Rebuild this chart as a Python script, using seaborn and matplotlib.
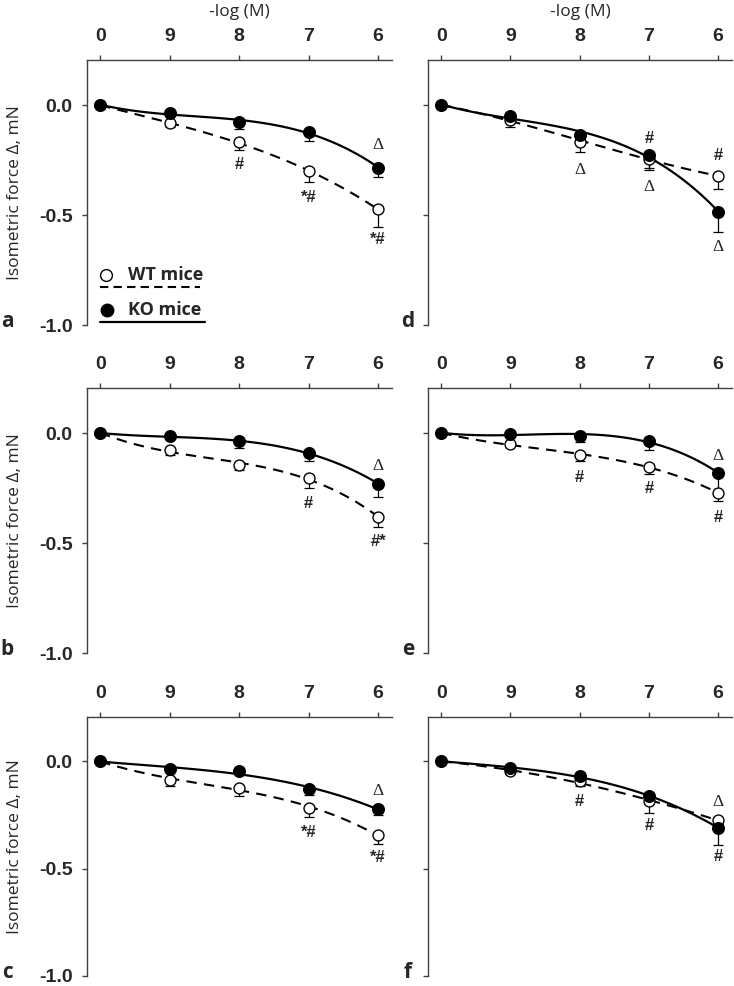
import numpy as np
import seaborn as sns
import matplotlib
matplotlib.use("Agg")
import matplotlib.pyplot as plt

sns.set_style("ticks")
plt.rcParams['font.family'] = ['Liberation Sans', 'DejaVu Sans']

# concentrations (-log M), plotted at even positions
conc_labels = ["0", "9", "8", "7", "6"]
xpos = [0, 1, 2, 3, 4]

# panel a
wt_a = [0, -0.083, -0.170, -0.300, -0.474]
wt_a_err = [0, 0.015, 0.035, 0.050, 0.079]
ko_a = [0, -0.035, -0.079, -0.121, -0.285]
ko_a_err = [0, 0.010, 0.032, 0.041, 0.044]
# panel b
wt_b = [0, -0.079, -0.144, -0.205, -0.382]
wt_b_err = [0, 0.020, 0.023, 0.045, 0.047]
ko_b = [0, -0.015, -0.038, -0.091, -0.230]
ko_b_err = [0, 0.005, 0.030, 0.038, 0.060]
# panel c
wt_c = [0, -0.087, -0.125, -0.218, -0.346]
wt_c_err = [0, 0.030, 0.038, 0.042, 0.042]
ko_c = [0, -0.037, -0.048, -0.130, -0.223]
ko_c_err = [0, 0.008, 0.010, 0.026, 0.030]
# panel d
wt_d = [0, -0.068, -0.167, -0.243, -0.323]
wt_d_err = [0, 0.030, 0.045, 0.050, 0.059]
ko_d = [0, -0.050, -0.136, -0.227, -0.486]
ko_d_err = [0, 0.010, 0.020, 0.060, 0.089]
# panel e
wt_e = [0, -0.050, -0.101, -0.152, -0.273]
wt_e_err = [0, 0.010, 0.027, 0.035, 0.038]
ko_e = [0, -0.002, -0.015, -0.035, -0.182]
ko_e_err = [0, 0.010, 0.026, 0.041, 0.080]
# panel f
wt_f = [0, -0.048, -0.094, -0.187, -0.275]
wt_f_err = [0, 0.010, 0.020, 0.054, 0.020]
ko_f = [0, -0.032, -0.071, -0.164, -0.310]
ko_f_err = [0, 0.010, 0.020, 0.030, 0.082]

# significance marks: (x position, y, text)
marks_a = [(2, -0.27, "#"), (3, -0.42, "*#"), (4, -0.61, "*#"), (4, -0.18, "Δ")]
marks_b = [(3, -0.318, "#"), (4, -0.495, "#*"), (4, -0.151, "Δ")]
marks_c = [(3, -0.334, "*#"), (4, -0.45, "*#"), (4, -0.14, "Δ")]
marks_d = [(2, -0.295, "Δ"), (3, -0.15, "#"), (3, -0.374, "Δ"), (4, -0.227, "#"), (4, -0.644, "Δ")]
marks_e = [(2, -0.20, "#"), (3, -0.25, "#"), (4, -0.386, "#"), (4, -0.106, "Δ")]
marks_f = [(2, -0.187, "#"), (3, -0.30, "#"), (4, -0.445, "#"), (4, -0.19, "Δ")]

panels = [
    ("a", wt_a, wt_a_err, ko_a, ko_a_err, marks_a),
    ("b", wt_b, wt_b_err, ko_b, ko_b_err, marks_b),
    ("c", wt_c, wt_c_err, ko_c, ko_c_err, marks_c),
    ("d", wt_d, wt_d_err, ko_d, ko_d_err, marks_d),
    ("e", wt_e, wt_e_err, ko_e, ko_e_err, marks_e),
    ("f", wt_f, wt_f_err, ko_f, ko_f_err, marks_f),
]

W, H = 734, 986
fig = plt.figure(figsize=(W / 100, H / 100), dpi=100)

col_px = [(87, 392), (428, 732)]
row_px = [(60, 325), (388, 653), (717, 976)]
spine_col = "#404040"
sans = ['Open Sans', 'DejaVu Sans']

for i, (letter, wt, wt_err, ko, ko_err, marks) in enumerate(panels):
    col, row = i // 3, i % 3
    l, r = col_px[col]
    t, b = row_px[row]
    ax = fig.add_axes([l / W, 1 - b / H, (r - l) / W, (b - t) / H])

    # fitted curves
    sns.regplot(x=xpos, y=wt, order=3, ci=None, scatter=False, ax=ax, truncate=True,
                line_kws=dict(color="black", lw=1.5, ls=(0, (5, 3.5)), zorder=2))
    sns.regplot(x=xpos, y=ko, order=3, ci=None, scatter=False, ax=ax, truncate=True,
                line_kws=dict(color="black", lw=1.6, ls="-", zorder=2))

    # one-sided (downward) error bars
    for vals, errs in ((wt, wt_err), (ko, ko_err)):
        ax.errorbar(xpos, vals, yerr=[errs, np.zeros(len(errs))], fmt="none",
                    ecolor="black", elinewidth=0.9, capsize=3.6, capthick=0.9, zorder=3)

    sns.scatterplot(x=xpos, y=wt, ax=ax, marker="o", s=62, color="white",
                    edgecolor="black", linewidth=1.0, zorder=4)
    sns.scatterplot(x=xpos, y=ko, ax=ax, marker="o", s=70, color="black",
                    edgecolor="black", linewidth=1.0, zorder=5)

    for mx, my, mt in marks:
        if mt == "Δ":
            ax.text(mx, my, mt, ha="center", va="center", fontsize=12.5,
                    family=['Liberation Serif', 'DejaVu Serif'])
        else:
            ax.text(mx, my, mt, ha="center", va="center", fontsize=12, fontweight="bold")

    ax.set_xlim(-0.19, 4.2)
    ax.set_ylim(-1.0, 0.205)
    ax.xaxis.tick_top()
    ax.set_xticks(xpos)
    ax.set_xticklabels(conc_labels)
    ax.set_yticks([0.0, -0.5, -1.0])
    ax.set_yticklabels(["0.0", "-0.5", "-1.0"])
    ax.set_xlabel("")
    ax.set_ylabel("")
    for s in ("bottom", "right"):
        ax.spines[s].set_visible(False)
    for s in ("top", "left"):
        ax.spines[s].set_color(spine_col)
        ax.spines[s].set_linewidth(1.0)
    ax.tick_params(axis="both", direction="out", length=3.5, width=1.0,
                   color=spine_col, pad=7, labelsize=14)
    for lab in ax.get_xticklabels() + ax.get_yticklabels():
        lab.set_fontweight("bold")
    if col == 1:
        ax.tick_params(axis="y", labelleft=False)
    else:
        ax.text(-0.236, 0.5, "Isometric force Δ, mN", transform=ax.transAxes,
                rotation=90, ha="center", va="center", rotation_mode="anchor",
                fontsize=12.5, family=sans)
    if row == 0:
        ax.text(0.5, 1.18, "-log (M)", transform=ax.transAxes, ha="center",
                va="center", fontsize=12.5, family=sans)

    lx = -0.262 if col == 0 else -0.066
    ax.text(lx, 0.012, letter, transform=ax.transAxes, ha="center", va="center",
            fontsize=15, fontweight="bold", family=sans)

    # legend in panel a
    if letter == "a":
        tr = ax.transAxes
        ax.plot([0.061], [0.189], "o", ms=8.5, mfc="white", mec="black", mew=1.0,
                transform=tr, clip_on=False)
        ax.text(0.134, 0.189, "WT mice", transform=tr, ha="left", va="center",
                fontsize=13, fontweight="bold", family=sans)
        ax.plot([0.043, 0.371], [0.143, 0.143], color="black", lw=1.5,
                ls=(0, (4, 2.5)), transform=tr, clip_on=False)
        ax.plot([0.065], [0.057], "o", ms=9, mfc="black", mec="black",
                transform=tr, clip_on=False)
        ax.text(0.134, 0.057, "KO mice", transform=tr, ha="left", va="center",
                fontsize=13, fontweight="bold", family=sans)
        ax.plot([0.043, 0.387], [0.011, 0.011], color="black", lw=1.6,
                transform=tr, clip_on=False)

fig.savefig("out.png", dpi=100)
